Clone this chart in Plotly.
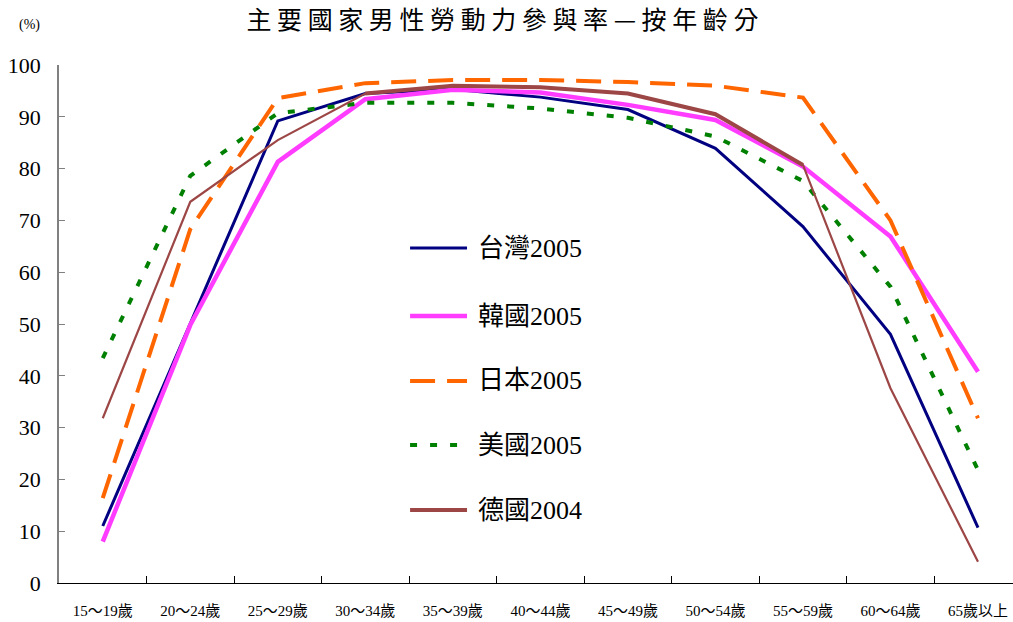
import plotly.graph_objects as go

# Age groups
age_groups = ["15～19歲", "20～24歲", "25～29歲", "30～34歲", "35～39歲", "40～44歲",
              "45～49歲", "50～54歲", "55～59歲", "60～64歲", "65歲以上"]

# Male labour force participation rate (%)
taiwan_2005 = [11.0, 50.0, 89.2, 94.5, 95.3, 93.8, 91.4, 83.9, 68.8, 48.0, 10.7]
korea_2005 = [8.0, 49.8, 81.3, 93.4, 95.2, 94.7, 92.3, 89.4, 80.4, 66.9, 40.8]
japan_2005 = [16.4, 68.3, 93.6, 96.5, 97.1, 97.1, 96.7, 96.0, 93.7, 70.0, 31.8]
usa_2005 = [43.4, 78.6, 90.7, 92.7, 92.7, 91.6, 89.8, 86.2, 77.6, 57.2, 21.8]
germany_2004 = [31.8, 73.6, 85.5, 94.5, 96.0, 95.7, 94.5, 90.5, 80.7, 37.6, 4.1]

series_names = ["台灣2005", "韓國2005", "日本2005", "美國2005", "德國2004"]

NAVY = "#000080"
MAGENTA = "#FF3CFF"
ORANGE = "#FF6600"
GREEN = "#008000"
BROWN = "#9C4646"

TEXT_FONT = "Liberation Serif, Noto Sans CJK TC, serif"

fig = go.Figure()

fig.add_trace(go.Scatter(x=age_groups, y=taiwan_2005, mode="lines", name=series_names[0],
                         line=dict(color=NAVY, width=3), showlegend=False))
fig.add_trace(go.Scatter(x=age_groups, y=korea_2005, mode="lines", name=series_names[1],
                         line=dict(color=MAGENTA, width=4.5), showlegend=False))
fig.add_trace(go.Scatter(x=age_groups, y=japan_2005, mode="lines", name=series_names[2],
                         line=dict(color=ORANGE, width=4, dash="25px,12px"), showlegend=False))
fig.add_trace(go.Scatter(x=age_groups, y=usa_2005, mode="lines", name=series_names[3],
                         line=dict(color=GREEN, width=4, dash="7px,13px"), showlegend=False))
# Germany: thin line overall, heavier stroke through the prime-age groups
fig.add_trace(go.Scatter(x=age_groups, y=germany_2004, mode="lines", name=series_names[4],
                         line=dict(color=BROWN, width=2.2), showlegend=False))
fig.add_trace(go.Scatter(x=age_groups[3:9], y=germany_2004[3:9], mode="lines", name=series_names[4],
                         line=dict(color=BROWN, width=4), showlegend=False))

# Hand-placed legend inside the plot area
legend_styles = [
    dict(color=NAVY, width=3, dash="solid"),
    dict(color=MAGENTA, width=4.5, dash="solid"),
    dict(color=ORANGE, width=4, dash="25px,12px"),
    dict(color=GREEN, width=4, dash="7px,13px"),
    dict(color=BROWN, width=4, dash="solid"),
]
legend_y = [0.6467, 0.5154, 0.390, 0.2664, 0.1409]
for name, style, ly in zip(series_names, legend_styles, legend_y):
    fig.add_shape(type="line", xref="paper", yref="paper", x0=0.368, x1=0.4277, y0=ly, y1=ly,
                  line=style)
    fig.add_annotation(xref="paper", yref="paper", x=0.437, y=ly, text=name, showarrow=False,
                       xanchor="left", yanchor="middle",
                       font=dict(family=TEXT_FONT, size=26, color="#000000"))

fig.add_annotation(xref="paper", yref="paper", x=-0.0304, y=1.077, text="(%)", showarrow=False,
                   xanchor="center", yanchor="middle",
                   font=dict(family=TEXT_FONT, size=14, color="#000000"))

fig.update_layout(
    width=1013, height=622,
    margin=dict(l=59, r=0, t=65, b=39),
    paper_bgcolor="white", plot_bgcolor="white",
    title=dict(text="主 要 國 家 男 性 勞 動 力 參 與 率 — 按 年 齡 分",
               x=0.496, xanchor="center", y=0.968, yanchor="middle",
               font=dict(family="Noto Sans CJK TC", size=25, color="#000000")),
    xaxis=dict(type="category", range=[-0.5, 10.4], showgrid=False, zeroline=False,
               showline=True, linecolor="#000000", linewidth=1,
               tickson="boundaries", ticks="inside", ticklen=7, tickcolor="#000000",
               tickfont=dict(family=TEXT_FONT, size=15, color="#000000"),
               ticklabelstandoff=14),
    yaxis=dict(range=[0, 100], dtick=10, showgrid=False, zeroline=False,
               showline=True, linecolor="#808080", linewidth=1.5,
               ticks="inside", ticklen=6, tickcolor="#808080",
               tickfont=dict(family=TEXT_FONT, size=22, color="#000000"),
               ticklabelstandoff=12),
)

fig.write_html("out.html")
